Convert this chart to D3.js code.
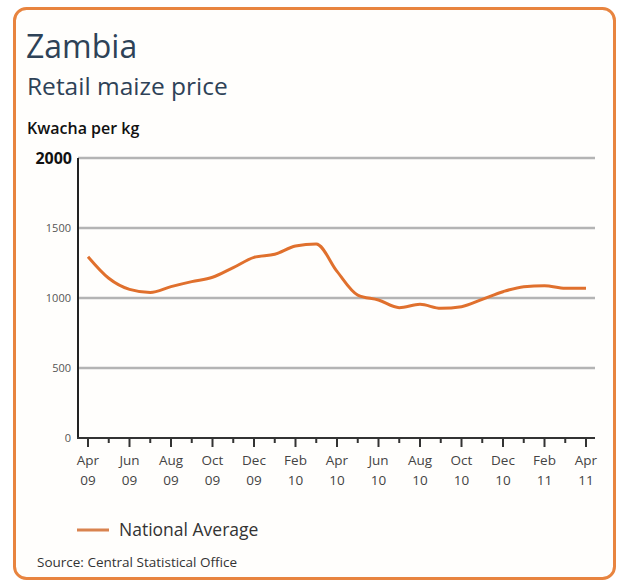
<!DOCTYPE html>
<html><head><meta charset="utf-8">
<script src="https://cdn.jsdelivr.net/npm/d3@7"></script>
<style>
html,body{margin:0;padding:0;background:#fff;}
svg{display:block;}
text{font-family:"Open Sans","Noto Sans",sans-serif;}
</style></head>
<body>
<svg id="chart" width="619" height="582"></svg>
<script>
// ---- data ----
const months = ["Apr 09","May 09","Jun 09","Jul 09","Aug 09","Sep 09","Oct 09","Nov 09","Dec 09","Jan 10","Feb 10","Mar 10",
                "Apr 10","May 10","Jun 10","Jul 10","Aug 10","Sep 10","Oct 10","Nov 10","Dec 10","Jan 11","Feb 11","Mar 11","Apr 11"];
const nationalAverage = [1295,1141,1062,1040,1081,1117,1148,1217,1290,1312,1371,1386,
                         1190,1021,986,931,955,926,938,990,1045,1081,1088,1069,1069];
const tickMonthLabels = ["Apr","Jun","Aug","Oct","Dec","Feb","Apr","Jun","Aug","Oct","Dec","Feb","Apr"];
const tickYearLabels  = ["09","09","09","09","09","10","10","10","10","10","10","11","11"];
const yTicks = [0,500,1000,1500,2000];
const seriesName = "National Average";

// ---- drawing ----
const svg = d3.select("#chart");
svg.append("rect").attr("x",14.5).attr("y",8.5).attr("width",600).attr("height",570)
  .attr("rx",12).attr("fill","#fffefc").attr("stroke","#e8843f").attr("stroke-width",3);

svg.append("text").attr("x",26).attr("y",58).attr("font-size",32).attr("fill","#2e4257").text("Zambia");
svg.append("text").attr("x",27).attr("y",95).attr("font-size",24.5).attr("fill","#2e4257").text("Retail maize price");
svg.append("text").attr("x",27).attr("y",134).attr("font-size",16).attr("font-weight",600).attr("fill","#111").text("Kwacha per kg");

const x = d3.scaleLinear().domain([0, months.length-1]).range([88, 586]);
const y = d3.scaleLinear().domain([0, 2000]).range([438, 158]);
const xLeft = 78, xRight = 595;

// gridlines
svg.append("g").selectAll("line").data(yTicks.filter(d=>d>0)).join("line")
  .attr("x1",xLeft).attr("x2",xRight).attr("y1",d=>y(d)).attr("y2",d=>y(d))
  .attr("stroke","#b4b4b4").attr("stroke-width",2.5);

// y labels
svg.append("g").selectAll("text").data(yTicks).join("text")
  .attr("x",d=>d===2000?72:71).attr("y",d=>y(d)+(d===2000?6:4))
  .attr("text-anchor","end")
  .attr("font-size",d=>d===2000?16:11)
  .attr("font-weight",d=>d===2000?700:400)
  .attr("fill",d=>d===2000?"#111":"#555")
  .text(d=>d);

// axes lines
svg.append("line").attr("x1",xLeft).attr("x2",xLeft).attr("y1",y(2000)).attr("y2",y(0)+1)
  .attr("stroke","#222").attr("stroke-width",2);
svg.append("line").attr("x1",xLeft-1).attr("x2",xRight).attr("y1",y(0)).attr("y2",y(0))
  .attr("stroke","#333").attr("stroke-width",2);

// x ticks
svg.append("g").selectAll("line").data(months.map((m,i)=>i)).join("line")
  .attr("x1",d=>x(d)).attr("x2",d=>x(d)).attr("y1",y(0))
  .attr("y2",d=>y(0)+(d%2===0?9:5))
  .attr("stroke","#333").attr("stroke-width",2);

const lab = svg.append("g");
tickMonthLabels.forEach((m,k)=>{
  const t = lab.append("text").attr("x",x(k*2)).attr("text-anchor","middle")
    .attr("font-size",13.5).attr("fill","#444");
  t.append("tspan").attr("x",x(k*2)).attr("y",465).text(m);
  t.append("tspan").attr("x",x(k*2)).attr("y",485).text(tickYearLabels[k]);
});

// line
const line = d3.line().x((d,i)=>x(i)).y(d=>y(d)).curve(d3.curveMonotoneX);
svg.append("path").datum(nationalAverage).attr("d",line)
  .attr("fill","none").attr("stroke","#e0702d").attr("stroke-width",3).attr("stroke-linejoin","round");

// legend
svg.append("line").attr("x1",77).attr("x2",109).attr("y1",530).attr("y2",530)
  .attr("stroke","#d9834f").attr("stroke-width",3);
svg.append("text").attr("x",119).attr("y",536).attr("font-size",17.5).attr("fill","#333").text(seriesName);

svg.append("text").attr("x",37).attr("y",567).attr("font-size",13.5).attr("fill","#333")
  .text("Source: Central Statistical Office");
</script>
</body></html>
